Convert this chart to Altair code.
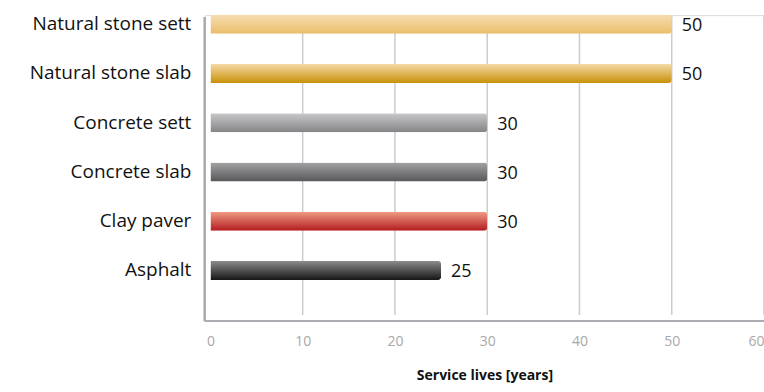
import altair as alt
import pandas as pd

categories = ["Natural stone sett", "Natural stone slab", "Concrete sett",
              "Concrete slab", "Clay paver", "Asphalt"]
values = [50, 50, 30, 30, 30, 25]
top_colors = ["#f6ddb2", "#f4daa8", "#c8c8ca", "#a2a2a4", "#f09c82", "#8c8c8c"]
bottom_colors = ["#eabe6c", "#c99108", "#858588", "#58585a", "#b31c20", "#161616"]
x_ticks = [0, 10, 20, 30, 40, 50, 60]
grid_ticks = [10, 20, 30, 40, 50, 60]

df = pd.DataFrame({"category": categories, "value": values})
grid_df = pd.DataFrame({"value": grid_ticks})

FONT = "Open Sans"

x_scale = alt.Scale(domain=[-0.6, 60], nice=False, zero=False)
y_scale = alt.Scale(domain=categories, range=[-0.5, 265],
                    paddingInner=0.614, paddingOuter=0)

x_enc = alt.X("value:Q", scale=x_scale,
              axis=alt.Axis(values=x_ticks, title="Service lives [years]",
                            titleFont=FONT, titleFontSize=14,
                            titleFontWeight="bold", titleColor="#111111",
                            titlePadding=20, labelFont=FONT,
                            labelFontSize=14, labelColor="#a8a8a8",
                            labelPadding=14, ticks=False, domain=False,
                            grid=False))
y_enc = alt.Y("category:N", sort=categories, scale=y_scale,
              axis=alt.Axis(title=None, ticks=False, labelPadding=14,
                            labelFontSize=19, labelColor="#111111",
                            labelFont=FONT, domain=False, grid=False))

grid = alt.Chart(grid_df).mark_rule(color="#c9ccd0", strokeWidth=1.5).encode(
    x=x_enc, y=alt.value(0), y2=alt.value(300))

layers = [grid]
for i, cat in enumerate(categories):
    grad = alt.Gradient(gradient="linear",
                        stops=[alt.GradientStop(color=top_colors[i], offset=0),
                               alt.GradientStop(color=bottom_colors[i], offset=1)],
                        x1=0, x2=0, y1=0, y2=1)
    layer = alt.Chart(df).transform_filter(
        alt.datum.category == cat
    ).mark_bar(color=grad, cornerRadiusEnd=3).encode(
        x=alt.X("value:Q", scale=x_scale), y=y_enc
    )
    layers.append(layer)

text = alt.Chart(df).mark_text(align="left", baseline="middle", dx=10, dy=2,
                               fontSize=18, font=FONT,
                               color="#111111").encode(
    x=alt.X("value:Q", scale=x_scale), y=y_enc,
    text=alt.Text("value:Q"))

axis_color = "#a9adb1"
y_line = alt.Chart(df).mark_rule(color=axis_color, strokeWidth=2).encode(
    x=alt.value(0), y=alt.value(2), y2=alt.value(306))
x_line = alt.Chart(df).mark_rule(color=axis_color, strokeWidth=2).encode(
    x=alt.value(0), x2=alt.value(560), y=alt.value(306))

chart = alt.layer(*layers, text, y_line, x_line).properties(
    width=559.5, height=306,
    autosize=alt.AutoSizeParams(type="none"),
    padding={"left": 205, "top": 15, "right": 0, "bottom": 71}
).configure_view(strokeWidth=0).configure(background="white")

chart.save("out.html", embed_options={"renderer": "svg", "actions": False})
